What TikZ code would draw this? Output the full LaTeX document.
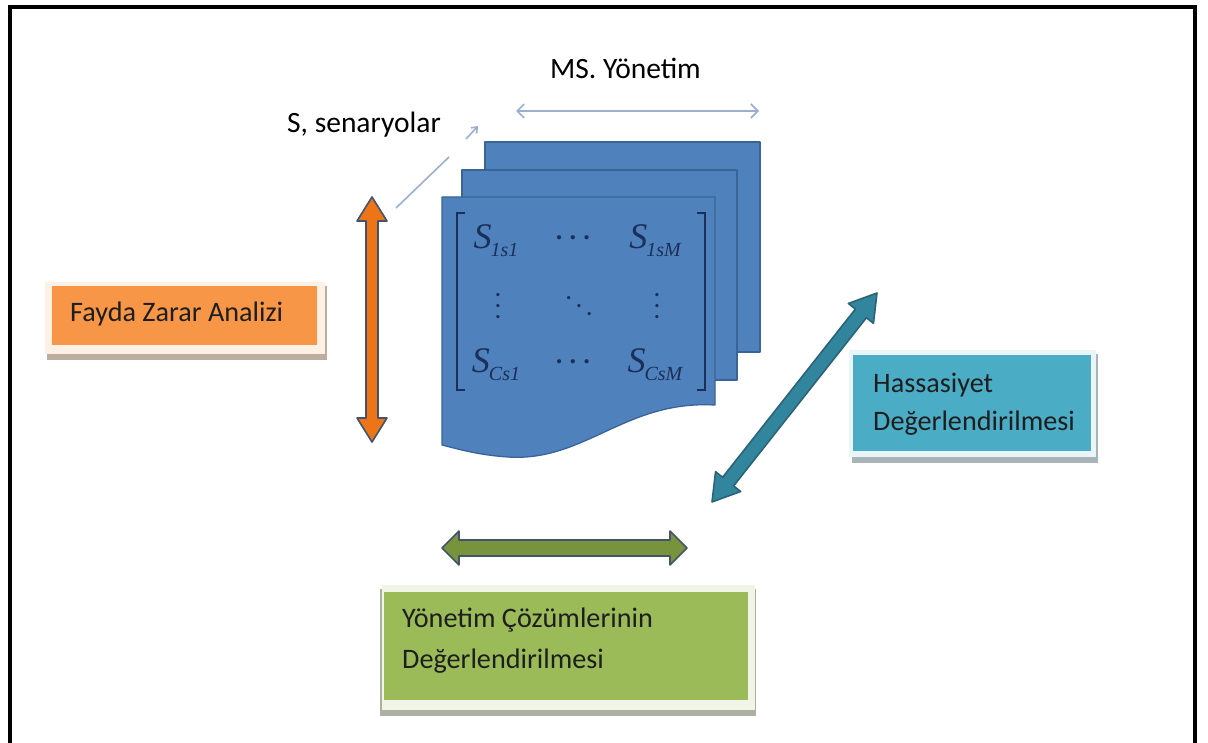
\RequirePackage{fix-cm}
\documentclass[tikz,border=0pt]{standalone}
\usepackage{fontspec}
\setmainfont{Carlito}
\newfontfamily\tms{Liberation Serif}
\usetikzlibrary{calc,arrows.meta}

\definecolor{sheetblue}{HTML}{4F81BD}
\definecolor{sheetedge}{HTML}{3A6496}
\definecolor{ink}{HTML}{1B2F58}
\definecolor{axisgray}{HTML}{9DAFCF}
\definecolor{arrowedge}{HTML}{43536E}
\definecolor{orangefill}{HTML}{EE7418}
\definecolor{tealfill}{HTML}{31859C}
\definecolor{tealedge}{HTML}{2D6379}
\definecolor{greenfill}{HTML}{77933C}
\definecolor{orangebox}{HTML}{F79646}
\definecolor{orangehalo}{HTML}{FDF1E6}
\definecolor{orangeshadow}{HTML}{BCAE9F}
\definecolor{cyanbox}{HTML}{4BACC6}
\definecolor{cyanhalo}{HTML}{E9F5F8}
\definecolor{cyanshadow}{HTML}{A9B4B8}
\definecolor{greenbox}{HTML}{9BBB59}
\definecolor{greenhalo}{HTML}{F1F5E8}
\definecolor{greenshadow}{HTML}{ADAFA0}
\definecolor{boxink}{HTML}{1E1E1E}

% fat double-headed arrow between two coordinates:
% #1 start, #2 end, #3 shaft half width, #4 head half width, #5 head length, #6 style
\newcommand\fatdarrow[6]{%
  \draw[#6] (#1)
    -- ($(#1)!#5!(#2)!#4!90:(#2)$)
    -- ($(#1)!#5!(#2)!#3!90:(#2)$)
    -- ($(#2)!#5!(#1)!#3!-90:(#1)$)
    -- ($(#2)!#5!(#1)!#4!-90:(#1)$)
    -- (#2)
    -- ($(#2)!#5!(#1)!#4!90:(#1)$)
    -- ($(#2)!#5!(#1)!#3!90:(#1)$)
    -- ($(#1)!#5!(#2)!#3!-90:(#2)$)
    -- ($(#1)!#5!(#2)!#4!-90:(#2)$)
    -- cycle;}

% one matrix entry: S with a subscript
\newcommand\sentry[1]{{\tms\itshape\fontsize{36}{36}\selectfont S}\kern-1pt\raisebox{-8pt}{\tms\fontsize{20}{20}\selectfont\itshape #1}}

\tikzset{
  lbl/.style={font=\fontsize{29.5}{31}\selectfont, anchor=base west, inner sep=0pt},
  boxtxt/.style={font=\fontsize{28.2}{30}\selectfont, anchor=base west, inner sep=0pt, text=boxink},
  sheet/.style={fill=sheetblue, draw=sheetedge, line width=1.3pt, line join=round},
  mentry/.style={text=ink, inner sep=0pt},
  mdots/.style={text=ink, inner sep=0pt, scale=2.7, font=\boldmath},
  bracket/.style={draw=ink, line width=2pt},
  thinax/.style={draw=axisgray, line width=1.6pt},
  inbox/.style={anchor=north west, inner sep=0pt, draw=none},
}

\begin{document}
\begin{tikzpicture}[x=1pt,y=-1pt]
\useasboundingbox (0,0) rectangle (1208,743);
\fill[white] (0,0) rectangle (1208,743);

% outer frame, open at the bottom
\draw[line width=3.6pt] (10,750) -- (10,7) -- (1195,7) -- (1195,750);

% axis labels
\node[lbl] (mslabel) at (550,79) {MS. Yönetim};
\node[lbl] (slabel) at (287,133) {S, senaryolar};

% management axis
\coordinate (ml) at (516,111);
\coordinate (mr) at (759,111);
\draw[thinax, {Straight Barb[length=7pt,width=14pt]}-{Straight Barb[length=7pt,width=14pt]}] (ml) -- (mr);

% scenario axis
\coordinate (sa) at (396,208);
\coordinate (sb) at (449,157);
\coordinate (sc) at (466,139);
\coordinate (sd) at (478,126);
\draw[thinax] (sa) -- (sb);
\draw[thinax, -{Straight Barb[length=5pt,width=8pt]}] (sc) -- (sd);

% stack of sheets
\path[sheet] (485,142) rectangle (760,352);
\path[sheet] (462,170) rectangle (737,380);
\path[sheet] (442,197) -- (715,197) -- (715,405)
  .. controls (625,400) and (585,462) .. (508,457)
  .. controls (478,455) and (458,449) .. (442,445) -- cycle;

% matrix on the front sheet
\draw[bracket] (465,213) -- (457,213) -- (457,390) -- (465,390);
\draw[bracket] (697,213) -- (705,213) -- (705,390) -- (697,390);
\node[mentry] (s11) at (496,241) {\sentry{1s1}};
\node[mdots] (d12) at (573,238) {$\cdots$};
\node[mentry] (s1m) at (655,241) {\sentry{1sM}};
\node[mdots] (d21) at (498,298) {$\vdots$};
\node[mdots] (d22) at (579,298) {$\ddots$};
\node[mdots] (d23) at (657,298) {$\vdots$};
\node[mentry] (sc1) at (496,365) {\sentry{Cs1}};
\node[mdots] (d32) at (573,362) {$\cdots$};
\node[mentry] (scm) at (655,365) {\sentry{CsM}};

% Fayda Zarar Analizi box
\fill[orangeshadow] (47,286) rectangle (327,360);
\fill[orangehalo] (45,282) rectangle (325,354);
\node[inbox, fill=orangebox, minimum width=265pt, minimum height=59pt] (fza) at (52,286) {};
\node[boxtxt] (fzat) at (70,322) {Fayda Zarar Analizi};

% Hassasiyet box
\fill[cyanshadow] (852,354) rectangle (1098,463);
\fill[cyanhalo] (849,350) rectangle (1096,457);
\node[inbox, fill=cyanbox, minimum width=238pt, minimum height=96pt] (hd) at (853,355) {};
\node[boxtxt] (hdt1) at (873,392) {Hassasiyet};
\node[boxtxt] (hdt2) at (873,430) {Değerlendirilmesi};

% Yönetim Çözümlerinin box
\fill[greenshadow] (380,589) rectangle (756,716);
\fill[greenhalo] (382,585) rectangle (755,710);
\node[inbox, fill=greenbox, minimum width=364pt, minimum height=108pt] (ycd) at (384,592) {};
\node[boxtxt] (ycdt1) at (402,627) {Yönetim Çözümlerinin};
\node[boxtxt] (ycdt2) at (402,668) {Değerlendirilmesi};

% fat double arrows
\coordinate (ot) at (372,197);
\coordinate (ob) at (372,442);
\fatdarrow{ot}{ob}{6pt}{15pt}{24pt}{fill=orangefill, draw=arrowedge, line width=1.6pt, line join=round}

\coordinate (tt) at (877,293);
\coordinate (tb) at (712,502);
\fatdarrow{tt}{tb}{7pt}{16pt}{26pt}{fill=tealfill, draw=tealedge, line width=1.6pt, line join=round}

\coordinate (gl) at (442,548);
\coordinate (gr) at (687,548);
\fatdarrow{gl}{gr}{8pt}{17pt}{17pt}{fill=greenfill, draw=arrowedge, line width=1.6pt, line join=round}
\end{tikzpicture}
\end{document}
